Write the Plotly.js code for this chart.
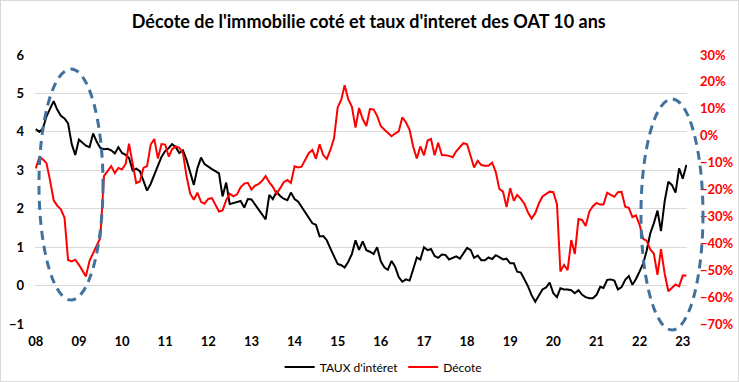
<!DOCTYPE html>
<html>
<head>
<meta charset="utf-8">
<script src="https://cdn.plot.ly/plotly-3.0.1.min.js"></script>
<style>
  html, body { margin: 0; padding: 0; background: #fff; }
  #wrap { position: relative; width: 739px; height: 382px; }
  #chart { width: 739px; height: 382px; }
  #frame { position: absolute; left: 0; top: 0; width: 737px; height: 380px; border: 1px solid #d9d9d9; pointer-events: none; }
</style>
</head>
<body>
<div id="wrap"><div id="chart"></div><div id="frame"></div></div>
<script>
// Monthly observations, January 2008 to February 2023
const startYear = 2008;
const yearLabels = ['08','09','10','11','12','13','14','15','16','17','18','19','20','21','22','23'];

// TAUX d'intéret (OAT 10 ans, %) - left axis
const taux = [
  4.07, 4.0, 4.08, 4.4, 4.6, 4.8, 4.58, 4.42, 4.35, 4.22, 3.68, 3.4,
  3.8, 3.72, 3.64, 3.6, 3.96, 3.74, 3.58, 3.55, 3.56, 3.52, 3.44, 3.6,
  3.45, 3.4, 3.32, 3.0, 3.04, 2.98, 2.75, 2.47, 2.65, 2.88, 3.12, 3.35,
  3.5, 3.58, 3.68, 3.6, 3.45, 3.52, 3.27, 2.92, 2.62, 3.05, 3.33, 3.16,
  3.09, 3.03, 2.98, 2.92, 2.32, 2.68, 2.12, 2.15, 2.18, 2.2, 2.03, 2.25,
  2.24, 2.1, 2.0, 1.86, 1.72, 2.36, 2.25, 2.44, 2.33, 2.26, 2.22, 2.42,
  2.25, 2.18, 2.05, 1.9, 1.77, 1.62, 1.58, 1.28, 1.29, 1.18, 0.96, 0.78,
  0.56, 0.53, 0.47, 0.62, 0.82, 1.18, 0.93, 1.15, 0.92, 0.88, 0.82, 1.0,
  0.63, 0.47, 0.41, 0.64, 0.49, 0.22, 0.1, 0.16, 0.13, 0.42, 0.73, 0.68,
  1.0, 0.92, 0.95, 0.77, 0.72, 0.81, 0.8, 0.68, 0.73, 0.76, 0.7, 0.84,
  0.98, 0.92, 0.72, 0.78, 0.66, 0.66, 0.73, 0.69, 0.79, 0.74, 0.68, 0.7,
  0.58, 0.58, 0.36, 0.34, 0.17, -0.02, -0.25, -0.42, -0.26, -0.1, -0.05, 0.08,
  -0.2, -0.3, -0.07, -0.1, -0.1, -0.12, -0.2, -0.12, -0.24, -0.3, -0.33, -0.33,
  -0.24, -0.03, -0.06, 0.15, 0.16, 0.13, -0.1, -0.04, 0.15, 0.25, 0.02, 0.17,
  0.37, 0.58, 0.9, 1.36, 1.62, 1.95, 1.42, 2.2, 2.7, 2.62, 2.42, 3.05,
  2.78, 3.14
];

// Décote (%) - right axis
const decote = [
  -12.2, -8.0, -8.8, -10.2, -16.5, -24.0, -26.0, -27.4, -30.5, -46.2, -46.7, -46.1,
  -48.0, -50.0, -52.3, -46.5, -43.5, -41.0, -38.0, -15.0, -13.2, -11.3, -13.9, -12.0,
  -12.5, -10.5, -3.0, -10.8, -17.6, -17.0, -12.0, -11.3, -3.3, -1.2, -8.5, -3.1,
  -3.3, -7.8, -5.0, -4.0, -4.5, -6.5, -15.0, -21.5, -23.8, -21.2, -24.6, -25.3,
  -23.5, -23.2, -25.5, -28.2, -27.8, -24.0, -21.6, -22.5, -21.8, -19.2, -17.8, -17.5,
  -20.0, -18.5, -18.0, -16.8, -15.0, -17.4, -19.0, -21.6, -19.5, -17.3, -16.5, -17.6,
  -11.4, -11.8, -11.5, -9.0, -6.5, -5.3, -8.6, -3.2, -7.2, -8.6, -5.2, -1.0,
  10.5, 13.5, 18.8, 13.5, 10.8, 3.0, 10.3, 6.2, 3.6, 9.9, 9.8, 7.4,
  3.6, 2.2, 0.9, -0.2, 0.8, 1.6, 6.8, 5.0, 2.2, -4.0, -8.5, -4.0,
  -7.3, -1.8, -1.2, -7.3, -2.6, -7.2, -7.3, -7.5, -8.0, -5.8, -4.2, -2.8,
  -3.2, -7.8, -11.8, -9.3, -10.9, -11.2, -11.2, -10.0, -13.5, -19.8, -20.8, -26.5,
  -19.5, -24.2, -22.0, -23.5, -25.3, -28.6, -30.8, -28.8, -25.2, -22.6, -21.8, -20.8,
  -21.0, -25.5, -50.5, -48.0, -50.0, -38.8, -44.0, -31.0, -31.3, -33.6, -28.2, -26.2,
  -25.0, -25.6, -25.6, -21.2, -22.0, -22.7, -21.0, -20.9, -26.4, -26.8, -30.3, -29.6,
  -33.2, -38.4, -39.0, -42.3, -43.8, -51.7, -42.2, -51.3, -57.8, -56.6, -55.3, -56.0,
  -52.0, -52.0
];

// month dates for the observations
const dates = taux.map((_, i) => {
  const y = startYear + Math.floor(i / 12);
  const m = (i % 12) + 1;
  return y + '-' + String(m).padStart(2, '0') + '-01';
});
const yearTicks = yearLabels.map((_, i) => (startYear + i) + '-01-01');

const FONT = 'Lato, "Open Sans", sans-serif';
const xRange = ['2007-12-26', '2023-02-06'];

const traces = [
  {
    x: dates, y: taux, name: "TAUX d'intéret", type: 'scatter', mode: 'lines',
    line: { color: '#000000', width: 2 }, xaxis: 'x', yaxis: 'y'
  },
  {
    x: dates, y: decote, name: 'Décote', type: 'scatter', mode: 'lines',
    line: { color: '#ff0000', width: 2 }, xaxis: 'x', yaxis: 'y2'
  }
];

const ell = { type: 'circle', xref: 'paper', yref: 'paper', layer: 'above',
  line: { color: '#41719c', width: 3, dash: '9px,6px' }, fillcolor: 'rgba(0,0,0,0)' };

const layout = {
  width: 739, height: 382,
  margin: { l: 35, r: 52, t: 55, b: 58, autoexpand: false },
  paper_bgcolor: '#ffffff', plot_bgcolor: '#ffffff',
  font: { family: FONT, color: '#000' },
  title: {
    text: "Décote de l'immobilie coté et taux d'interet des OAT 10 ans",
    font: { family: FONT, size: 18, weight: 'bold', color: '#000' },
    xref: 'container', yref: 'container', x: 0.499, y: 0.942,
    xanchor: 'center', yanchor: 'middle'
  },
  showlegend: true,
  legend: {
    orientation: 'h', x: 0.534, xanchor: 'center', y: -0.16, yanchor: 'middle',
    font: { family: FONT, size: 12, color: '#000' }, traceorder: 'normal'
  },
  xaxis: {
    type: 'date', range: xRange, automargin: false,
    tickmode: 'array', tickvals: yearTicks, ticktext: yearLabels,
    tickfont: { family: FONT, size: 13, weight: 'bold', color: '#000' },
    showgrid: false, zeroline: false, showline: false, ticks: '',
    ticklabelstandoff: 8
  },
  xaxis2: {
    type: 'date', range: xRange, overlaying: 'x', anchor: 'free', position: 1 / 7,
    tickmode: 'array', tickvals: yearTicks, showticklabels: false, automargin: false,
    showgrid: false, zeroline: false, showline: true, linecolor: '#d9d9d9', linewidth: 1,
    ticks: 'outside', ticklen: 4, tickcolor: '#d9d9d9', tickwidth: 1
  },
  yaxis: {
    range: [-1, 6], dtick: 1, tick0: 0, automargin: false,
    tickfont: { family: FONT, size: 13, weight: 'bold', color: '#000' },
    showgrid: true, gridcolor: '#d9d9d9', gridwidth: 1,
    zeroline: false, showline: false, ticks: '', ticklabelstandoff: 10
  },
  yaxis2: {
    range: [-70, 30], dtick: 10, tick0: 0, ticksuffix: '%', automargin: false,
    overlaying: 'y', side: 'right',
    tickfont: { family: FONT, size: 13, weight: 'bold', color: '#ff0000' },
    showgrid: false, zeroline: false, showline: false, ticks: '', ticklabelstandoff: 12
  },
  shapes: [
    Object.assign({}, ell, { x0: 0.0061, x1: 0.1043, y0: 0.0892, y1: 0.948 }),
    Object.assign({}, ell, { x0: 0.9294, x1: 1.0245, y0: -0.0223, y1: 0.8364 })
  ]
};

Plotly.newPlot('chart', traces, layout, { staticPlot: true, displayModeBar: false });
</script>
</body>
</html>
